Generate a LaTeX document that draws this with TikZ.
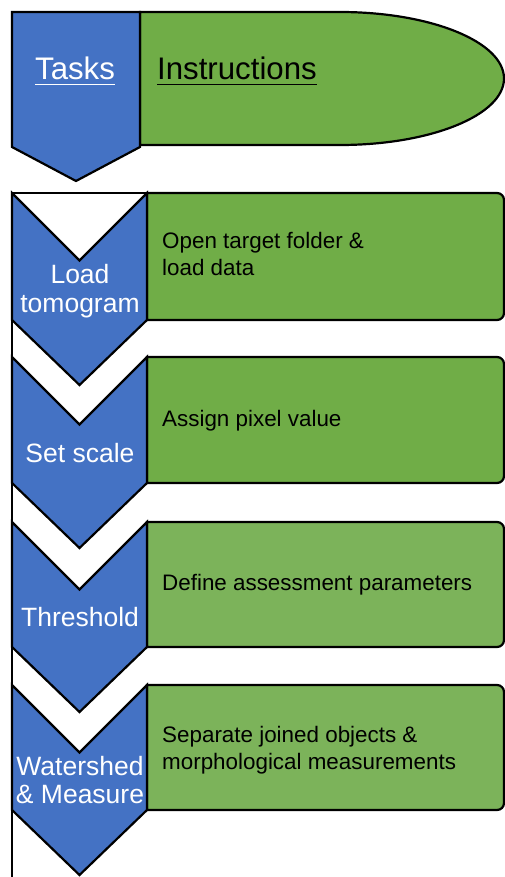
\documentclass[tikz,border=0pt]{standalone}
\usepackage{fontspec}
\setmainfont{Liberation Sans}
\definecolor{taskblue}{HTML}{4472C4}
\definecolor{instgreen}{HTML}{70AD47}
\definecolor{instgreenlt}{HTML}{7CB35A}
\begin{document}
\begin{tikzpicture}[x=1pt,y=1pt,
  outl/.style={draw=black,line width=2.2pt,line join=miter},
  chev/.style={outl,fill=taskblue},
  gbox/.style={outl,fill=instgreen},
  tasklbl/.style={inner sep=0pt,anchor=base,text=white,font=\fontsize{26.5}{29}\selectfont},
  instlbl/.style={inner sep=0pt,anchor=base west,text=black,font=\fontsize{22.4}{27}\selectfont},
  headlbl/.style={inner sep=0pt,anchor=base,font=\fontsize{31.2}{36}\selectfont}]
\useasboundingbox (0,0) rectangle (505,-877);
% header
\draw[gbox] (140,-12) -- (340,-12) arc[start angle=90,end angle=-90,x radius=164pt,y radius=66.5pt] -- (140,-145) -- cycle;
\draw[chev] (12,-12) -- (140,-12) -- (140,-147) -- (76,-181) -- (12,-147) -- cycle;
\node[headlbl,text=white] (tasks) at (75,-80) {Tasks};
\draw[white,line width=1.6pt] ([yshift=-4.5pt]tasks.base west) -- ([yshift=-4.5pt]tasks.base east);
\node[headlbl,text=black,anchor=base west] (instr) at (157,-80) {Instructions};
\draw[black,line width=1.6pt] ([yshift=-4.5pt]instr.base west) -- ([yshift=-4.5pt]instr.base east);
% steps
\foreach \T/\B/\col in {193/320/instgreen,357/483/instgreen,522/647/instgreenlt,685/810/instgreenlt}{
  \draw[gbox,fill=\col] (147,-\T) -- (497,-\T) arc[start angle=90,end angle=0,radius=7pt]
     -- (504,-\B+7) arc[start angle=0,end angle=-90,radius=7pt] -- (147,-\B) -- cycle;
  \draw[chev] (12,-\T) -- (79.5,-\T-67.5) -- (147,-\T) -- (147,-\B) -- (79.5,-\B-65) -- (12,-\B) -- cycle;
}
% frame
\draw[outl] (147,-193) -- (12,-193) -- (12,-880);
% task labels
\node[tasklbl] (load) at (80,-283) {Load};
\node[tasklbl] (tomo) at (80,-312) {tomogram};
\node[tasklbl] (scale) at (80,-462) {Set scale};
\node[tasklbl] (thresh) at (80,-626) {Threshold};
\node[tasklbl] (water) at (80,-775) {Watershed};
\node[tasklbl] (meas) at (80,-803) {\&~Measure};
% instruction labels
\node[instlbl] (open) at (162,-248) {Open target folder \&};
\node[instlbl] (loaddata) at (162,-275) {load data};
\node[instlbl] (assign) at (162,-426) {Assign pixel value};
\node[instlbl] (define) at (162,-590) {Define assessment parameters};
\node[instlbl] (sep) at (162,-742) {Separate joined objects \&};
\node[instlbl] (morph) at (162,-769) {morphological measurements};
\end{tikzpicture}
\end{document}
